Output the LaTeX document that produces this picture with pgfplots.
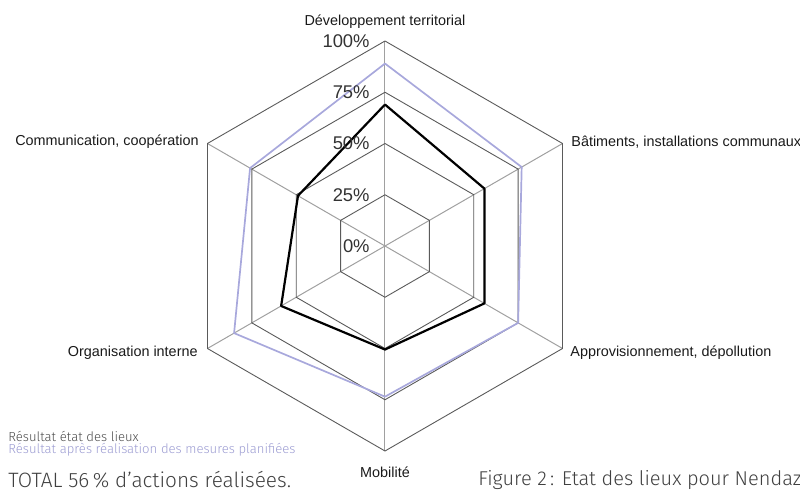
\documentclass[border=0pt]{standalone}
\usepackage{pgfplots}
\pgfplotsset{compat=1.18}
\usepgfplotslibrary{polar}
\usepackage{pgfplotstable}
\usepackage{fontspec}
\setmainfont{Liberation Sans}
\newfontfamily\dinfont{Fira Sans}[UprightFont=* Light]
\definecolor{lav}{HTML}{A8A8DC}
\definecolor{lavtext}{HTML}{9C9CD2}
\definecolor{gridc}{HTML}{5A5A5A}
\definecolor{spoke}{HTML}{A0A0A0}
\pgfplotstableread{
angle value
90 69
30 56
330 56
270 50.5
210 58.5
150 49
90 69
}\etat
\pgfplotstableread{
angle value
90 89
30 77
330 75
270 73.5
210 85
150 76
90 89
}\apres
\begin{document}
\begin{tikzpicture}
\path[use as bounding box] (-192.5pt,-123pt) rectangle (207.5pt,123pt);
\begin{polaraxis}[
  at={(0,0)}, anchor=center,
  scale only axis, width=205pt, height=205pt,
  xmin=0, xmax=360, ymin=0, ymax=100,
  hide axis, clip=false,
]
% spokes
\foreach \a in {90,30,330,270,210,150}{
  \edef\tmp{\noexpand\addplot[spoke, line width=0.5pt] coordinates {(\a,0) (\a,100)};}
  \tmp
}
% hexagonal grid
\foreach \r in {25,50,75,100}{
  \edef\tmp{\noexpand\addplot[gridc, line width=0.45pt] coordinates {(90,\r) (30,\r) (330,\r) (270,\r) (210,\r) (150,\r) (90,\r)};}
  \tmp
}
\addplot[lav, line width=0.85pt, line join=round] table[x=angle, y=value] {\apres};
\addplot[black, line width=1.1pt, line join=round] table[x=angle, y=value] {\etat};
\end{polaraxis}
% scale labels
\begin{scope}[font=\fontsize{9.2}{11}\selectfont, text=black!80]
\node[anchor=east, inner sep=0pt] at (-7.5pt,102.5pt) {100\%};
\node[anchor=east, inner sep=0pt] at (-7.5pt,76.9pt) {75\%};
\node[anchor=east, inner sep=0pt] at (-7.5pt,51.25pt) {50\%};
\node[anchor=east, inner sep=0pt] at (-7.5pt,25.6pt) {25\%};
\node[anchor=east, inner sep=0pt] at (-7.5pt,0pt) {0\%};
\end{scope}
% category labels
\begin{scope}[font=\fontsize{7.2}{8.6}\selectfont, text=black!90, inner sep=0pt]
\node[anchor=center] at (0pt,112pt) {Développement territorial};
\node[anchor=west] at (93pt,52pt) {Bâtiments, installations communaux};
\node[anchor=west] at (92.5pt,-53.5pt) {Approvisionnement, dépollution};
\node[anchor=center] at (0pt,-113pt) {Mobilité};
\node[anchor=east] at (-93.5pt,-53.5pt) {Organisation interne};
\node[anchor=east] at (-93pt,52pt) {Communication, coopération};
\end{scope}
% bottom texts
\begin{scope}[inner sep=0pt]
\node[anchor=west, font=\dinfont\fontsize{6.55}{8}\selectfont, text=black!70] at (-188.5pt,-95pt) {Résultat état des lieux};
\node[anchor=west, font=\dinfont\fontsize{6.55}{8}\selectfont, text=lavtext] at (-188.5pt,-102pt) {Résultat après réalisation des mesures planifiées};
\node[anchor=west, font=\dinfont\fontsize{10.4}{12}\selectfont, text=black!75] at (-188.5pt,-117pt) {TOTAL 56\,\% d’actions réalisées.};
\node[anchor=west, font=\dinfont\fontsize{10}{12}\selectfont, text=black!75] at (46.5pt,-117pt) {Figure 2\,: Etat des lieux pour Nendaz};
\end{scope}
\end{tikzpicture}
\end{document}
